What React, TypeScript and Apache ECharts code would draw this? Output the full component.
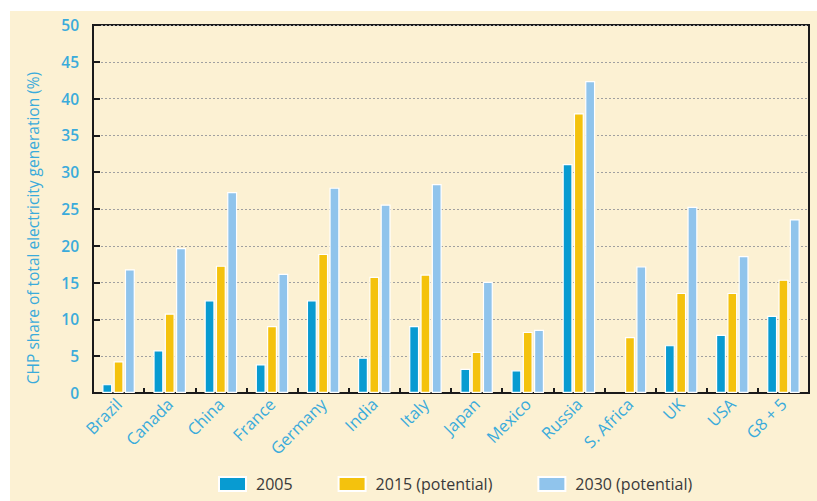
import React, { useEffect, useRef } from "react";
import * as echarts from "echarts";

const categories = [
  "Brazil", "Canada", "China", "France", "Germany", "India", "Italy",
  "Japan", "Mexico", "Russia", "S. Africa", "UK", "USA", "G8 + 5",
];
const values2005 = [1.2, 5.8, 12.6, 3.9, 12.6, 4.8, 9.1, 3.3, 3.1, 31.1, null, 6.5, 7.9, 10.5];
const values2015 = [4.3, 10.8, 17.3, 9.1, 18.9, 15.8, 16.1, 5.6, 8.3, 38.0, 7.6, 13.6, 13.6, 15.4];
const values2030 = [16.8, 19.7, 27.3, 16.2, 27.9, 25.6, 28.4, 15.1, 8.6, 42.4, 17.2, 25.3, 18.6, 23.6];
const seriesNames = ["2005", "2015 (potential)", "2030 (potential)"];
const yTicks = { min: 0, max: 50, interval: 5 };

const FONT = "'Open Sans', 'Noto Sans', sans-serif";
const BLUE_TEXT = "#3aabdb";

export default function App() {
  const ref = useRef<HTMLDivElement>(null);
  useEffect(() => {
    if (!ref.current) return;
    const chart = echarts.init(ref.current, null, { renderer: "svg" });
    const barStyle = (color: string) => ({
      color,
      borderColor: "#ffffff",
      borderWidth: 1.2,
    });
    chart.setOption({
      animation: false,
      backgroundColor: "#ffffff",
      textStyle: { fontFamily: FONT },
      graphic: [
        {
          type: "rect",
          z: -10,
          silent: true,
          shape: { x: 10, y: 11, width: 807, height: 490 },
          style: { fill: "#fcf1d3" },
        },
      ],
      grid: {
        left: 93,
        top: 25,
        right: 8,
        bottom: 108,
        show: true,
        borderColor: "#1a1a1a",
        borderWidth: 2,
        backgroundColor: "transparent",
      },
      legend: {
        left: 218,
        top: 476,
        padding: 0,
        itemWidth: 27,
        itemHeight: 14,
        itemGap: 45,
        icon: "rect",
        textStyle: { color: "#3a3a3a", fontSize: 16, fontFamily: FONT, padding: [0, 0, 0, 5] },
        data: seriesNames,
      },
      xAxis: {
        type: "category",
        data: categories,
        boundaryGap: true,
        axisLine: { show: true, lineStyle: { color: "#1a1a1a", width: 2 } },
        axisTick: { show: true, inside: true, length: 5, lineStyle: { color: "#1a1a1a", width: 2 } },
        axisLabel: {
          rotate: 45,
          color: BLUE_TEXT,
          fontSize: 16.5,
          fontFamily: FONT,
          margin: 8,
          interval: 0,
        },
        splitLine: { show: false },
      },
      yAxis: {
        type: "value",
        min: yTicks.min,
        max: yTicks.max,
        interval: yTicks.interval,
        name: "CHP share of total electricity generation (%)",
        nameLocation: "middle",
        nameGap: 52,
        nameTextStyle: { color: BLUE_TEXT, fontSize: 15.5, fontFamily: FONT, padding: [0, 38, 0, 0] },
        axisLine: { show: true, lineStyle: { color: "#1a1a1a", width: 2 } },
        axisTick: { show: true, inside: true, length: 7, lineStyle: { color: "#1a1a1a", width: 2 } },
        axisLabel: { color: BLUE_TEXT, fontSize: 15.5, fontWeight: 600, fontFamily: FONT, margin: 14 },
        splitLine: { show: true, lineStyle: { color: "#a0a0a0", width: 1, type: [2, 2] } },
      },
      series: [
        { name: seriesNames[0], type: "bar", data: values2005, barWidth: 10, barGap: "13%", itemStyle: barStyle("#089bd1") },
        { name: seriesNames[1], type: "bar", data: values2015, barWidth: 10, barGap: "13%", itemStyle: barStyle("#f4c20d") },
        { name: seriesNames[2], type: "bar", data: values2030, barWidth: 10, barGap: "13%", itemStyle: barStyle("#90c4ec") },
      ],
    });
    return () => chart.dispose();
  }, []);
  return (
    <div
      ref={ref}
      style={{ position: "fixed", left: 0, top: 0, width: 817, height: 501 }}
    />
  );
}
